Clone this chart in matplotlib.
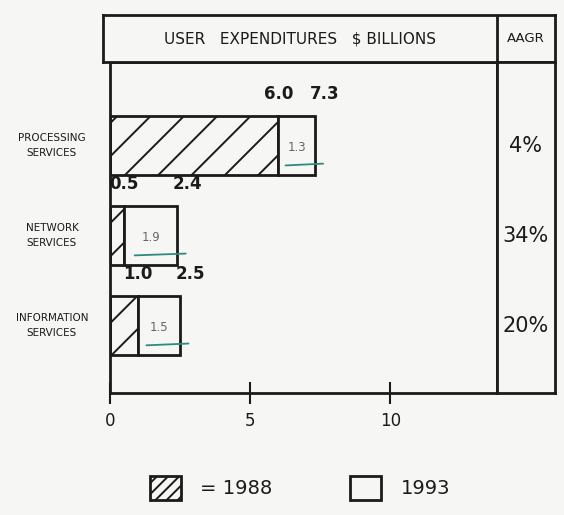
import matplotlib
matplotlib.use('Agg')
import matplotlib.pyplot as plt
import matplotlib.transforms as mtransforms
from matplotlib.patches import Patch

# user expenditures, $ billions
categories = ['PROCESSING\nSERVICES', 'NETWORK\nSERVICES', 'INFORMATION\nSERVICES']
spend_1988 = [6.0, 0.5, 1.0]
spend_1993 = [7.3, 2.4, 2.5]
aagr = ['4%', '34%', '20%']
xticks = [0, 5, 10]

W, H = 564, 515
ink = '#1c1a1a'
bg = '#f6f6f4'
teal = '#2c8c7c'

plt.rcParams['hatch.linewidth'] = 1.4
plt.rcParams['hatch.color'] = ink

fig = plt.figure(figsize=(W / 100, H / 100), dpi=100, facecolor=bg)

def box(x0, y0, x1, y1):
    # pixel box (top-left origin) -> figure fraction rect
    return [x0 / W, 1 - y1 / H, (x1 - x0) / W, (y1 - y0) / H]

ax = fig.add_axes(box(110, 62, 497, 393))
hdr = fig.add_axes(box(103, 15, 555, 62))
side = fig.add_axes(box(497, 62, 555, 393), sharey=ax)

for a in (ax, hdr, side):
    a.set_facecolor(bg)
    for s in a.spines.values():
        s.set_linewidth(2)
        s.set_color(ink)

# header row
hdr.set_xlim(0, 1)
hdr.set_ylim(0, 1)
hdr.set_xticks([])
hdr.set_yticks([])
div = (497 - 103) / (555 - 103)
hdr.axvline(div, color=ink, lw=2)
hdr.text(div / 2, 0.5, 'USER   EXPENDITURES   $ BILLIONS', ha='center', va='center',
         fontsize=11, color=ink)
hdr.text((1 + div) / 2, 0.5, 'AAGR', ha='center', va='center', fontsize=9.5, color=ink)

# bars
ypos = list(range(len(categories)))
growth = [b - a for a, b in zip(spend_1988, spend_1993)]
bh = 0.66
b88 = ax.barh(ypos, spend_1988, height=bh, facecolor=bg, edgecolor=ink, lw=2,
              hatch='/', label='= 1988')
b93 = ax.barh(ypos, growth, left=spend_1988, height=bh, facecolor=bg, edgecolor=ink,
              lw=2, label='1993')

ax.set_xlim(0, 13.8)
ax.set_ylim(2.75, -0.93)

for y, a, b, g in zip(ypos, spend_1988, spend_1993, growth):
    ax.text(a, y - bh / 2 - 0.14, f'{a:.1f}', ha='center', va='bottom', fontsize=12,
            color=ink, fontweight='bold')
    ax.text(b + 0.35, y - bh / 2 - 0.14, f'{b:.1f}', ha='center', va='bottom',
            fontsize=12, color=ink, fontweight='bold')
    mid = a + g / 2
    ax.text(mid, y + 0.02, f'{g:.1f}', ha='center', va='center', fontsize=8.5,
            color='#666666')
    ax.plot([a + g * 0.2, b + 0.3], [y + 0.22, y + 0.2], color=teal, lw=1.3,
            solid_capstyle='round')

# category labels on the left
trans = mtransforms.blended_transform_factory(ax.transAxes, ax.transData)
for y, name in zip(ypos, categories):
    ax.text(-0.15, y, name, transform=trans, ha='center', va='center', fontsize=7.5,
            color=ink, linespacing=1.6)

ax.set_yticks([])
ax.set_xticks(xticks)
ax.tick_params(axis='x', direction='inout', length=16, width=1.5, color=ink,
               labelsize=12, labelcolor=ink, pad=6)

# AAGR column
side.set_xlim(0, 1)
side.set_xticks([])
side.tick_params(axis='y', left=False, labelleft=False)
for y, p in zip(ypos, aagr):
    side.text(0.5, y, p, ha='center', va='center', fontsize=15, color=ink)

h88 = Patch(facecolor=bg, edgecolor=ink, lw=2, hatch='///', label='= 1988')
h93 = Patch(facecolor=bg, edgecolor=ink, lw=2, label='1993')
fig.legend(handles=[h88, h93], loc='center', bbox_to_anchor=(300 / W, 1 - 488 / H),
           ncol=2, frameon=False, fontsize=14, handlelength=1.6, handleheight=1.6,
           columnspacing=4, handletextpad=1.0, labelcolor=ink)

fig.savefig('out.png', dpi=100, facecolor=bg)
